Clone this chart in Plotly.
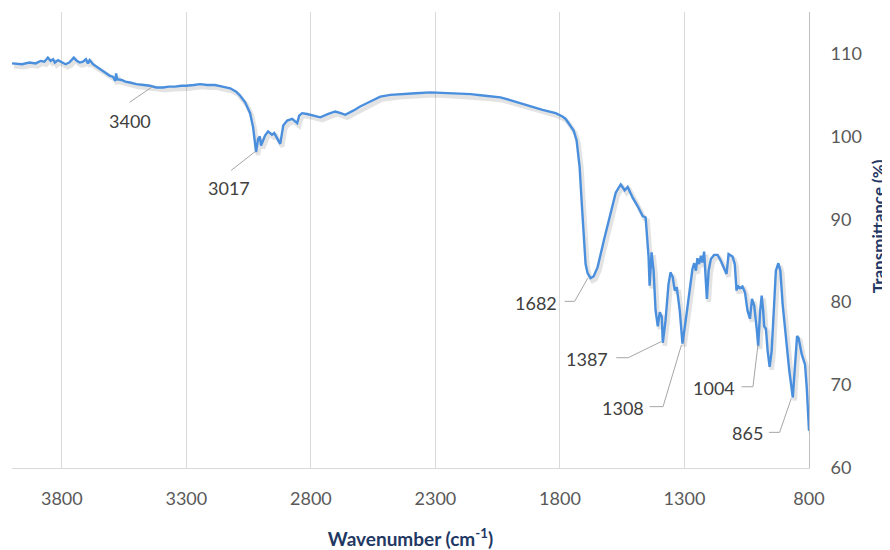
import plotly.graph_objects as go

# ---- data ----
wavenumber = [
    4000, 3960, 3930, 3905, 3885, 3870, 3856, 3845, 3835, 3828, 3815, 3800, 3785, 3770,
    3752, 3740, 3728, 3715, 3703, 3695, 3688, 3675, 3660, 3647, 3630, 3607, 3595, 3585,
    3582, 3578, 3560, 3545, 3527, 3500, 3470, 3446, 3420, 3394, 3370, 3346, 3320, 3301,
    3270, 3245, 3215, 3185, 3155, 3124, 3100, 3084, 3064, 3044, 3032, 3024, 3020, 3012,
    3005, 3000, 2984, 2972, 2956, 2947, 2939, 2923, 2911, 2895, 2875, 2855, 2847, 2835,
    2815, 2790, 2762, 2730, 2702, 2680, 2662, 2630, 2602, 2561, 2521, 2480, 2441, 2380,
    2320, 2240, 2159, 2100, 2039, 1980, 1918, 1870, 1817, 1790, 1777, 1757, 1745, 1733,
    1721, 1713, 1705, 1697, 1689, 1677, 1665, 1649, 1624, 1596, 1576, 1556, 1540, 1528,
    1508, 1488, 1468, 1456, 1444, 1440, 1432, 1424, 1416, 1407, 1399, 1391, 1387, 1376,
    1364, 1356, 1347, 1339, 1331, 1319, 1308, 1295, 1281, 1268, 1261, 1254, 1248, 1241,
    1234, 1228, 1221, 1217, 1210, 1203, 1194, 1181, 1167, 1154, 1141, 1131, 1123, 1107,
    1098, 1091, 1087, 1077, 1067, 1057, 1047, 1037, 1029, 1020, 1009, 1004, 996, 990,
    984, 980, 973, 966, 958, 950, 942, 933, 923, 915, 906, 892, 879, 865,
    858, 848, 842, 829, 816, 809, 800,
]
transmittance = [
    108.8, 108.7, 108.9, 108.8, 109.1, 109.0, 109.5, 109.1, 109.3, 108.9, 109.2, 109.0, 108.7, 108.9,
    109.5, 109.1, 108.9, 109.0, 109.3, 108.8, 109.2, 108.7, 108.4, 108.1, 107.8, 107.3, 107.2, 106.7,
    107.6, 106.9, 106.8, 106.6, 106.5, 106.3, 106.2, 106.1, 105.9, 105.9, 106.0, 106.0, 106.1, 106.1,
    106.2, 106.3, 106.2, 106.2, 106.0, 105.8, 105.4, 104.9, 104.1, 102.8, 101.1, 98.7, 98.1, 99.7,
    100.0, 98.9, 100.1, 100.6, 100.2, 100.4, 99.9, 99.1, 101.3, 101.9, 102.1, 101.6, 102.5, 102.8,
    102.7, 102.5, 102.3, 102.7, 103.0, 102.8, 102.6, 103.1, 103.6, 104.2, 104.8, 105.0, 105.1, 105.2,
    105.3, 105.2, 105.1, 104.9, 104.7, 104.2, 103.6, 103.2, 102.8, 102.4, 102.1, 101.2, 100.7, 99.5,
    96.3, 92.2, 88.0, 84.6, 83.5, 82.9, 83.1, 84.2, 87.4, 91.0, 93.2, 94.2, 93.5, 93.9,
    92.6, 91.6, 90.4, 90.2, 85.4, 82.0, 86.0, 83.8, 79.0, 77.1, 78.8, 78.2, 75.1, 77.8,
    82.2, 83.6, 83.0, 81.4, 81.8, 79.0, 75.0, 77.8, 81.4, 84.0, 84.7, 83.8, 85.3, 84.6,
    85.6, 84.8, 86.1, 83.4, 80.4, 83.8, 85.2, 85.7, 85.7, 85.0, 84.0, 83.4, 85.8, 85.5,
    84.6, 81.4, 82.0, 81.7, 81.9, 81.2, 79.0, 78.0, 80.4, 79.6, 76.5, 74.7, 79.0, 80.8,
    79.0, 77.1, 76.8, 74.1, 72.2, 74.1, 78.6, 83.8, 84.7, 83.8, 79.8, 75.3, 71.7, 68.5,
    71.7, 75.9, 75.7, 73.7, 72.5, 69.7, 64.5,
]
x_ticks = [3800, 3300, 2800, 2300, 1800, 1300, 800]
y_ticks = [60, 70, 80, 90, 100, 110]
peak_labels = ["3400", "3017", "1682", "1387", "1308", "1004", "865"]

# ---- styles ----
FONT = "Lato"
LINE_BLUE = "#4A8FDD"
LEADER = "#A6A6A6"
TEXT_GRAY = "#404040"
TICK_GRAY = "#595959"
NAVY = "#1F3864"

fig = go.Figure()

# soft drop shadow under the line (derived from the same data)
fig.add_trace(go.Scatter(
    x=[w - 8 for w in wavenumber], y=[t - 0.35 for t in transmittance],
    mode="lines", line=dict(color="rgba(0,0,0,0.11)", width=4.5),
    hoverinfo="skip", showlegend=False,
))
fig.add_trace(go.Scatter(
    x=wavenumber, y=transmittance, mode="lines",
    line=dict(color=LINE_BLUE, width=2.4), showlegend=False,
))

# leader lines: (polyline points in data coords), label centre
leaders = [
    ([(3436, 106.0), (3528, 104.1)], (3528, 101.8)),
    ([(3022, 98.2), (3120, 95.9)], (3127, 93.8)),
    ([(1688, 82.9), (1741, 80.1), (1781, 80.1)], (1895, 79.9)),
    ([(1393, 75.25), (1526, 73.3), (1574, 73.3)], (1693, 73.1)),
    ([(1312, 74.85), (1386, 67.4), (1440, 67.4)], (1548, 67.2)),
    ([(1005, 74.85), (1025, 69.8), (1071, 69.8)], (1180, 69.6)),
    ([(871, 68.4), (918, 64.3), (961, 64.3)], (1045, 64.2)),
]
for label, (pts, (tx, ty)) in zip(peak_labels, leaders):
    for (x0, y0), (x1, y1) in zip(pts[:-1], pts[1:]):
        fig.add_shape(type="line", xref="x", yref="y", x0=x0, y0=y0, x1=x1, y1=y1,
                      line=dict(color=LEADER, width=1))
    fig.add_annotation(x=tx, y=ty, xref="x", yref="y", text=label, showarrow=False,
                       font=dict(family=FONT, size=18, color=TEXT_GRAY),
                       xanchor="center", yanchor="middle")

# vertical axis title (right side)
fig.add_annotation(x=1.0865, y=0.53, xref="paper", yref="paper",
                   text="Transmittance (%)", textangle=-90, showarrow=False,
                   xanchor="center", yanchor="middle",
                   font=dict(family=FONT, size=17, color=NAVY, weight="bold"))

# page has an 8px body margin: figure is shrunk so the plot lands where the reference has it
fig.update_layout(
    width=882, height=542,
    margin=dict(l=4, r=81, t=4, b=82),
    paper_bgcolor="white", plot_bgcolor="white",
    font=dict(family=FONT),
    xaxis=dict(
        range=[4000, 800], tickvals=x_ticks, ticktext=[str(v) for v in x_ticks],
        showgrid=True, gridcolor="#D9D9D9", gridwidth=1,
        showline=True, linecolor="#D9D9D9", linewidth=1, zeroline=False,
        ticks="", ticklabelstandoff=14,
        tickfont=dict(family=FONT, size=18, color=TICK_GRAY),
        title=dict(text="Wavenumber (cm<sup>-1</sup>)", standoff=27,
                   font=dict(family=FONT, size=19, color=NAVY, weight="bold")),
        automargin=False,
    ),
    yaxis=dict(
        range=[60, 115], tickvals=y_ticks, side="right",
        showgrid=False, showline=True, linecolor="#BFBFBF", linewidth=1, zeroline=False,
        ticks="", ticklabelstandoff=17,
        tickfont=dict(family=FONT, size=18, color=TICK_GRAY),
        automargin=False,
    ),
)

fig.write_html("out.html")
